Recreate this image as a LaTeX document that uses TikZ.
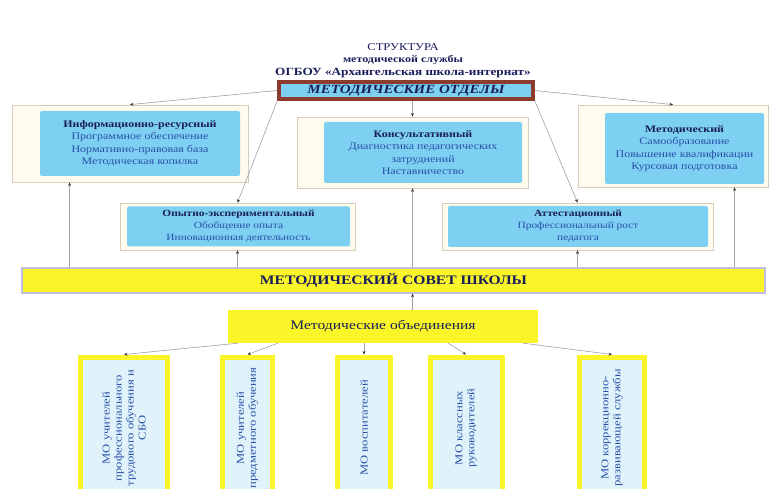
\documentclass[tikz,border=0pt]{standalone}
\usepackage{fontspec}
\setmainfont{Liberation Serif}[FakeStretch=1.2]
\usetikzlibrary{arrows.meta,positioning,calc}

\definecolor{navy}{RGB}{25,30,90}
\definecolor{itemblue}{RGB}{40,80,170}
\definecolor{skyblue}{RGB}{125,208,242}
\definecolor{cream}{RGB}{255,252,238}
\definecolor{creamline}{RGB}{215,205,190}
\definecolor{brownframe}{RGB}{140,60,45}
\definecolor{moyellow}{RGB}{250,245,40}
\definecolor{lavender}{RGB}{190,190,225}
\definecolor{mofill}{RGB}{225,243,250}
\definecolor{linegray}{RGB}{160,160,165}

\newcommand{\head}[1]{{\color{navy}\bfseries #1}}

\begin{document}
\begin{tikzpicture}[x=1pt,y=-1pt,
    outer/.style={draw=creamline, fill=cream, line width=0.8pt, inner sep=0pt},
    inner/.style={fill=skyblue, rounded corners=2pt, text=itemblue, align=center, inner sep=0pt, font=\fontsize{10}{12.5}\selectfont},
    link/.style={draw=linegray, line width=0.6pt, -{Stealth[length=3.5pt,width=3pt,color=black!80]}},
    mobox/.style={draw=moyellow, line width=5pt, fill=mofill, minimum height=142pt, inner sep=0pt},
    motext/.style={rotate=90, text=itemblue, align=center, font=\fontsize{10.5}{12}\selectfont}]
  \useasboundingbox (0,0) rectangle (769,489);

  \node[text=navy, font=\fontsize{10.5}{12}\selectfont] (title) at (403,47) {СТРУКТУРА};
  \node[text=navy, font=\bfseries\fontsize{10}{12}\selectfont] (sub1) at (403,60) {методической службы};
  \node[text=navy, font=\bfseries\fontsize{11}{12}\selectfont] (sub2) at (403,73) {ОГБОУ «Архангельская школа-интернат»};

  \node[draw=brownframe, line width=3.5pt, fill=skyblue, minimum width=254pt, minimum height=17pt, inner sep=0pt, text=navy, font=\bfseries\itshape\fontsize{12.5}{13}\selectfont] (otdely) at (406,90.5) {МЕТОДИЧЕСКИЕ ОТДЕЛЫ};

  \node[outer, minimum width=236pt, minimum height=77pt] (info) at (130,143.5) {};
  \node[inner, minimum width=200pt, minimum height=65pt] (infotxt) at (140,143.5) {\head{Информационно-ресурсный}\\Программное обеспечение\\Нормативно-правовая база\\Методическая копилка};

  \node[outer, minimum width=231pt, minimum height=71pt] (konsult) at (412.5,152.5) {};
  \node[inner, minimum width=198pt, minimum height=61pt] (konsulttxt) at (423,152.5) {\head{Консультативный}\\Диагностика педагогических\\затруднений\\Наставничество};

  \node[outer, minimum width=190pt, minimum height=82pt] (metod) at (673,146) {};
  \node[inner, minimum width=159pt, minimum height=71pt] (metodtxt) at (684.5,148.5) {\head{Методический}\\Самообразование\\Повышение квалификации\\Курсовая подготовка};

  \node[outer, minimum width=235pt, minimum height=47pt] (opyt) at (237.5,226.5) {};
  \node[inner, minimum width=223pt, minimum height=40pt, font=\fontsize{9.5}{12}\selectfont] (opyttxt) at (238.5,226.5) {\head{Опытно-экспериментальный}\\Обобщение опыта\\Инновационная деятельность};

  \node[outer, minimum width=271pt, minimum height=47pt] (attest) at (577.5,226.5) {};
  \node[inner, minimum width=260pt, minimum height=41pt, font=\fontsize{9.5}{12}\selectfont] (attesttxt) at (578,226.5) {\head{Аттестационный}\\Профессиональный рост\\педагога};

  \node[draw=lavender, line width=1.2pt, fill=moyellow, minimum width=743pt, minimum height=25pt, inner sep=0pt, text=navy, font=\bfseries\fontsize{13}{14}\selectfont] (sovet) at (393.5,280.5) {МЕТОДИЧЕСКИЙ СОВЕТ ШКОЛЫ};

  \node[fill=moyellow, minimum width=310pt, minimum height=33pt, inner sep=0pt, text=navy, font=\fontsize{13}{14}\selectfont] (mo) at (383,326.5) {Методические объединения};

  \node[mobox, minimum width=87pt] (mb1) at (124,428) {};
  \node[motext] (mb1t) at (mb1) {МО учителей\\профессионального\\трудового обучения и\\СБО};
  \node[mobox, minimum width=50pt] (mb2) at (247.5,428) {};
  \node[motext] (mb2t) at (mb2) {МО учителей\\предметного обучения};
  \node[mobox, minimum width=53pt] (mb3) at (364,428) {};
  \node[motext] (mb3t) at (mb3) {МО воспитателей};
  \node[mobox, minimum width=72pt] (mb4) at (466,428) {};
  \node[motext] (mb4t) at (mb4) {МО классных\\руководителей};
  \node[mobox, minimum width=65pt] (mb5) at (612,428) {};
  \node[motext] (mb5t) at (mb5) {МО коррекционно-\\развивающей службы};

  \coordinate (infob) at ([xshift=58pt]info.south west);
  \coordinate (metodb) at ([xshift=157pt]metod.south west);

  \draw[link] (otdely.west) -- (info.north);
  \draw[link] (otdely.east) -- (metod.north);
  \draw[link] (otdely.south -| konsult.north) -- (konsult.north);
  \draw[link] (otdely.south west) -- (opyt.north);
  \draw[link] (otdely.south east) -- (attest.north);

  \draw[link] (sovet.north -| infob) -- (infob);
  \draw[link] (sovet.north -| opyt.south) -- (opyt.south);
  \draw[link] (sovet.north -| konsult.south) -- (konsult.south);
  \draw[link] (sovet.north -| attest.south) -- (attest.south);
  \draw[link] (sovet.north -| metodb) -- (metodb);

  \draw[link, {Stealth[length=3.5pt,width=3pt,color=black!80]}-] (sovet.south -| konsult.south) -- (mo.north -| konsult.south);

  \draw[link] ([xshift=10pt]mo.south west) -- (mb1.north);
  \draw[link] ([xshift=50pt]mo.south west) -- (mb2.north);
  \draw[link] (mo.south -| mb3.north) -- (mb3.north);
  \draw[link] ([xshift=-90pt]mo.south east) -- (mb4.north);
  \draw[link] ([xshift=-15pt]mo.south east) -- (mb5.north);
\end{tikzpicture}
\end{document}
